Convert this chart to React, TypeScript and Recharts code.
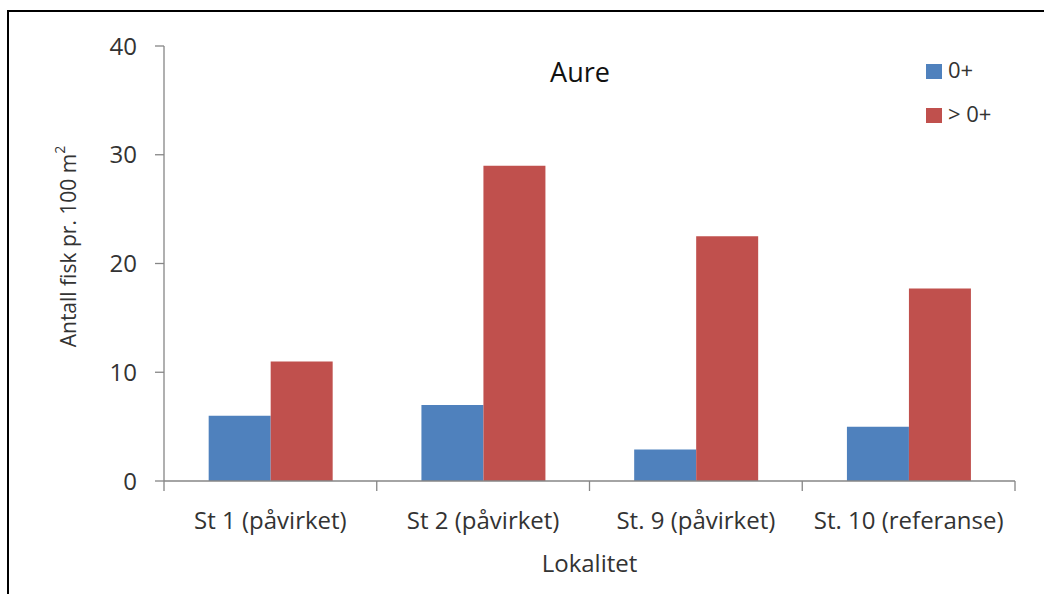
import React from 'react';
import { BarChart, Bar, XAxis, YAxis, Label } from 'recharts';

const stations = ['St 1 (påvirket)', 'St 2 (påvirket)', 'St. 9 (påvirket)', 'St. 10 (referanse)'];
const young = [6, 7, 2.9, 5];
const older = [11, 29, 22.5, 17.7];
const yTicks = [0, 10, 20, 30, 40];
const seriesNames = ['0+', '> 0+'];

const data = stations.map((station, i) => ({ station, young: young[i], older: older[i] }));

const FONT = '"Open Sans", sans-serif';
const AXIS = '#868686';
const TEXT = '#333';
const BLUE = '#4F81BD';
const RED = '#C0504D';
const seriesColors = [BLUE, RED];

const W = 1044;
const H = 594;
const PLOT_LEFT = 164;
const PLOT_RIGHT = 1015;
const HALF_BAND = (PLOT_RIGHT - PLOT_LEFT) / stations.length / 2;

// category labels at centre, tick marks on the category boundaries (Excel style)
const StationTick = (props: any) => {
  const { x, y, payload, index, visibleTicksCount } = props;
  const half = payload && payload.offset ? payload.offset : HALF_BAND;
  const last = index === visibleTicksCount - 1;
  return (
    <g>
      <line x1={x - half} x2={x - half} y1={y - 10} y2={y} stroke={AXIS} strokeWidth={1.3} />
      {last && <line x1={x + half} x2={x + half} y1={y - 10} y2={y} stroke={AXIS} strokeWidth={1.3} />}
      <text x={x} y={y + 38} textAnchor="middle" fill={TEXT} fontSize={24} fontFamily={FONT}>
        {payload.value}
      </text>
    </g>
  );
};

const YTitle = (props: any) => {
  const vb = props.viewBox || {};
  const cx = vb.x + 4;
  const cy = vb.y + vb.height / 2 - 17;
  return (
    <text
      x={cx}
      y={cy}
      transform={`rotate(-90, ${cx}, ${cy})`}
      textAnchor="middle"
      dominantBaseline="central"
      fill={TEXT}
      fontSize={21}
      fontFamily={FONT}
    >
      Antall fisk pr. 100 m<tspan fontSize={14} dy={-9}>2</tspan>
    </text>
  );
};

const XTitle = (props: any) => {
  const vb = props.viewBox || {};
  return (
    <text
      x={vb.x + vb.width / 2}
      y={572}
      textAnchor="middle"
      fill={TEXT}
      fontSize={24}
      fontFamily={FONT}
    >
      Lokalitet
    </text>
  );
};

export default function App() {
  return (
    <div style={{ position: 'absolute', left: 0, top: 0, width: W, height: H, background: '#fff', overflow: 'hidden' }}>
      <div
        style={{
          position: 'absolute',
          left: 7,
          top: 10,
          width: W,
          height: H,
          borderTop: '2px solid #000',
          borderLeft: '2px solid #000',
        }}
      />
      <div
        style={{
          position: 'absolute',
          left: 480,
          width: 200,
          top: 58,
          lineHeight: '28px',
          textAlign: 'center',
          fontFamily: FONT,
          fontSize: 27,
          color: '#111',
        }}
      >
        Aure
      </div>
      <div style={{ position: 'absolute', left: 926, top: 47, fontFamily: FONT, fontSize: 22, color: TEXT }}>
        {seriesNames.map((name, i) => (
          <div key={name} style={{ display: 'flex', alignItems: 'center', height: 44 }}>
            <span style={{ width: 16, height: 15, background: seriesColors[i], marginRight: 6, marginTop: 4, display: 'inline-block' }} />
            <span>{name}</span>
          </div>
        ))}
      </div>
      <BarChart
        width={W}
        height={H}
        data={data}
        margin={{ top: 46, right: W - PLOT_RIGHT, left: PLOT_LEFT - 100, bottom: 73 }}
        barCategoryGap="21%"
        barGap={0}
      >
        <XAxis
          dataKey="station"
          height={40}
          stroke={AXIS}
          strokeWidth={1.3}
          tickLine={false}
          tickSize={10}
          tickMargin={0}
          tick={<StationTick />}
          interval={0}
        >
          <Label content={<XTitle />} />
        </XAxis>
        <YAxis
          width={100}
          domain={[0, 40]}
          ticks={yTicks}
          stroke={AXIS}
          strokeWidth={1.3}
          tickSize={9}
          tickMargin={18}
          tick={{ fill: TEXT, fontSize: 24, fontFamily: FONT }}
        >
          <Label content={<YTitle />} />
        </YAxis>
        <Bar dataKey="young" name={seriesNames[0]} fill={BLUE} isAnimationActive={false} />
        <Bar dataKey="older" name={seriesNames[1]} fill={RED} isAnimationActive={false} />
      </BarChart>
    </div>
  );
}
